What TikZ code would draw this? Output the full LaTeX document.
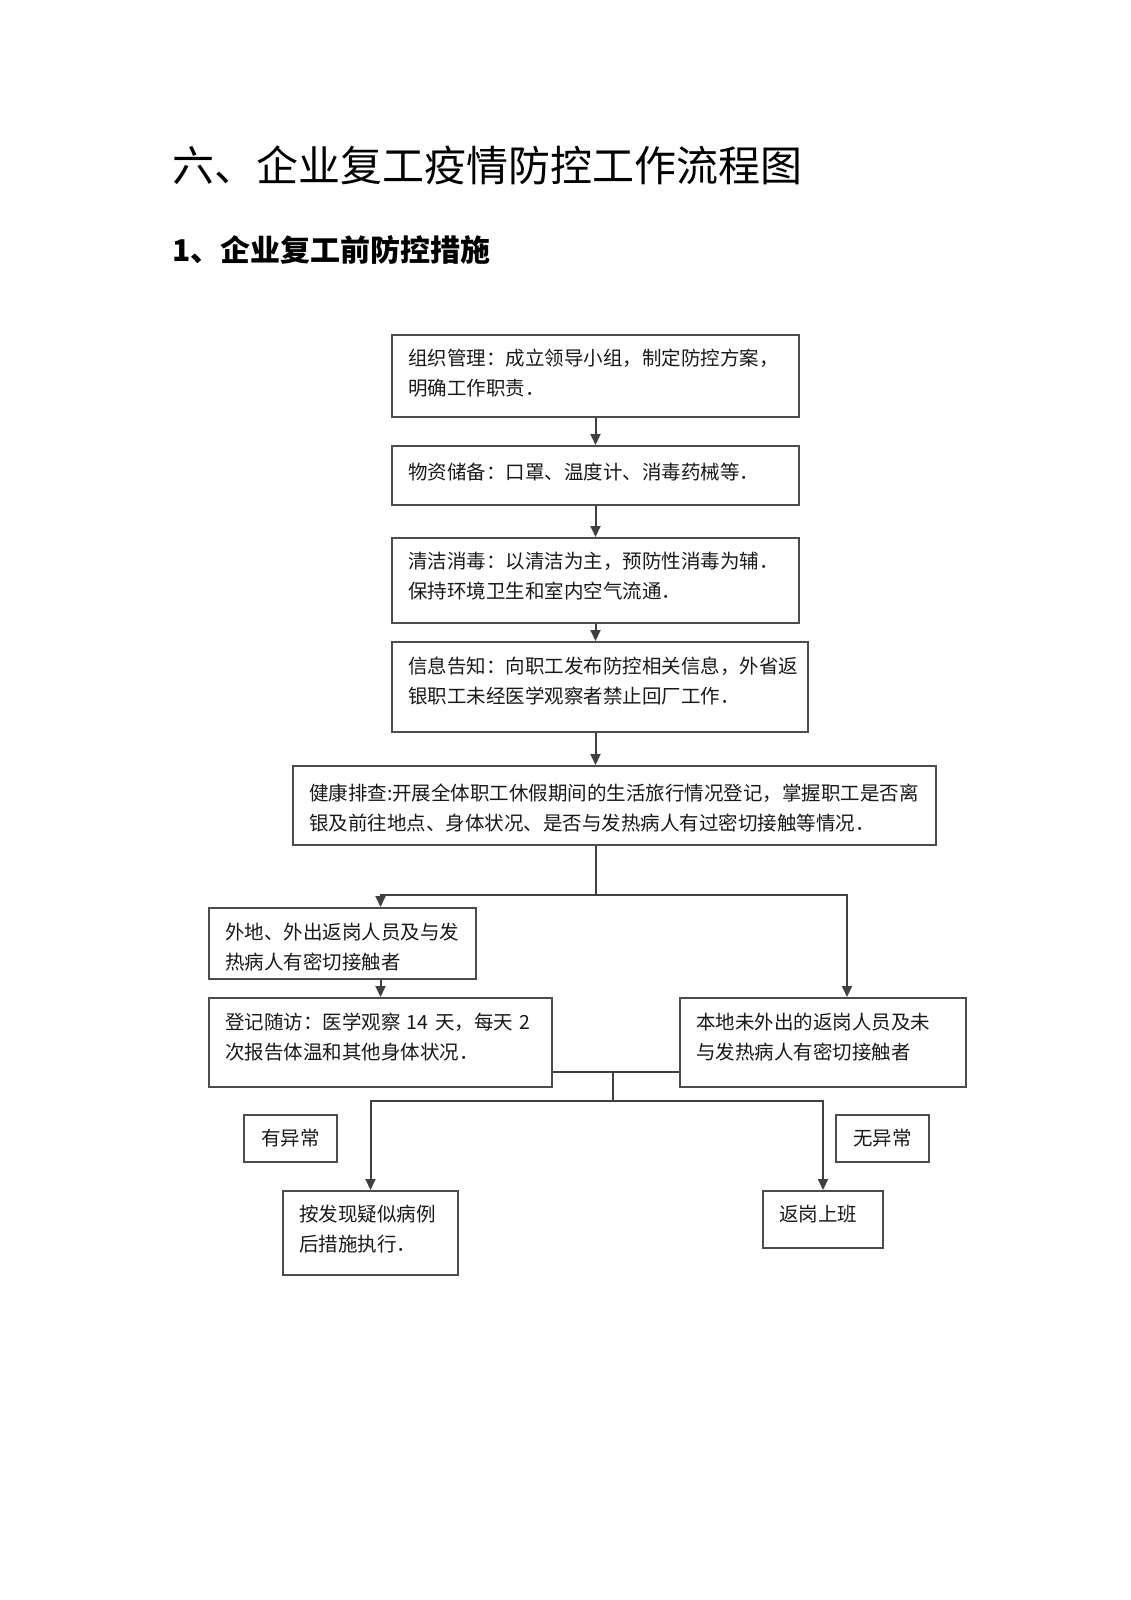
\documentclass[tikz,border=0pt]{standalone}
\usepackage{fontspec}
\setmainfont{Noto Sans CJK SC}
\usepackage{tikz}
\usetikzlibrary{arrows.meta, positioning}

\newcommand{\boxfont}{\fontsize{19.5}{30}\selectfont}

\begin{document}
\begin{tikzpicture}[
		x=1pt, y=-1pt,
		every node/.style={font=\boxfont},
		block/.style={
			rectangle,
			draw=black!70,
			line width=2pt,
			align=left,
			inner xsep=16pt,
			inner ysep=2pt,
			text=black!90
		},
		tag/.style={
			rectangle,
			draw=black!70,
			line width=2pt,
			align=center,
			minimum width=93pt,
			minimum height=47pt,
			text=black!90
		},
		% push the text up (extra depth) or down (extra height)
		lift/.style={execute at end node={\rule[-#1]{0pt}{#1}}},
		sink/.style={execute at begin node={\rule{0pt}{#1}}},
		link/.style={
			draw=black!75,
			line width=2pt
		},
		arrow/.style={
			link,
			-{Triangle[width=10pt,length=11pt]}
		}
		]
		\useasboundingbox (0,0) rectangle (1131,1600);
		
		% Headings
		\node[anchor=west, inner sep=0pt, font=\fontsize{42}{50}\selectfont] (title) at (172,165) {六、企业复工疫情防控工作流程图};
		\node[anchor=west, inner sep=0pt, font=\fontsize{30}{36}\selectfont\bfseries] (subtitle) at (172,250) {1、企业复工前防控措施};
		
		% Nodes
		\node[block, lift=8pt, text width=375pt, minimum height=82pt] (org) at (595.5,376) {组织管理：成立领导小组，制定防控方案，\\明确工作职责．};
		
		\node[block, lift=8pt, text width=375pt, minimum height=59pt, below=27pt of org] (supply) {物资储备：口罩、温度计、消毒药械等．};
		
		\node[block, lift=11pt, text width=375pt, minimum height=85pt, below=31pt of supply] (clean) {清洁消毒：以清洁为主，预防性消毒为辅．\\保持环境卫生和室内空气流通．};
		
		\node[block, lift=14pt, text width=384pt, minimum height=90pt, below=17pt of clean, xshift=4.5pt] (notice) {信息告知：向职工发布防控相关信息，外省返\\银职工未经医学观察者禁止回厂工作．};
		
		\node[block, sink=22pt, text width=611pt, minimum height=79pt, below=32pt of notice, xshift=14.5pt] (check) {健康排查:开展全体职工休假期间的生活旅行情况登记，掌握职工是否离\\银及前往地点、身体状况、是否与发热病人有过密切接触等情况．};
		
		\node[block, sink=24pt, text width=235pt, minimum height=71pt] (away) at (342.5,943.5) {外地、外出返岗人员及与发\\热病人有密切接触者};
		
		\node[block, lift=12pt, text width=311pt, minimum height=89pt] (follow) at (380.5,1042.5) {登记随访：医学观察~14~天，每天~2\\次报告体温和其他身体状况．};
		
		\node[block, lift=12pt, text width=254pt, minimum height=89pt] (local) at (823,1042.5) {本地未外出的返岗人员及未\\与发热病人有密切接触者};
		
		\node[tag] (abnormal) at (290.5,1138.5) {有异常};
		\node[tag] (normal) at (882.5,1138.5) {无异常};
		
		\node[block, lift=10pt, text width=143pt, minimum height=84pt] (suspect) at (370.5,1233) {按发现疑似病例\\后措施执行．};
		
		\node[block, lift=12pt, text width=88pt, minimum height=57pt] (work) at (823,1219.5) {返岗上班};
		
		% Arrows (main column)
		\draw[arrow] (org) -- (supply);
		\draw[arrow] (supply) -- (clean);
		\draw[arrow] (clean.south) -- (clean.south |- notice.north);
		\draw[arrow] (notice.south -| org) -- (check.north -| org);
		
		% Split into two groups
		\coordinate (split) at (595.5,895);
		\draw[link] (check.south -| split) -- (split);
		\draw[arrow] (split) -| (away.north -| follow.north);
		\draw[arrow] (split) -| ([xshift=24pt]local.north);
		\draw[arrow] (away.south -| follow.north) -- (follow.north);
		
		% Merge and result
		\coordinate (merge) at (613,1072);
		\coordinate (join) at (613,1101);
		\draw[link] (follow.east |- merge) -- (local.west |- merge);
		\draw[link] (merge) -- (join);
		\draw[arrow] (join) -| (suspect.north);
		\draw[arrow] (join) -| (work.north);
		
	\end{tikzpicture}
\end{document}
